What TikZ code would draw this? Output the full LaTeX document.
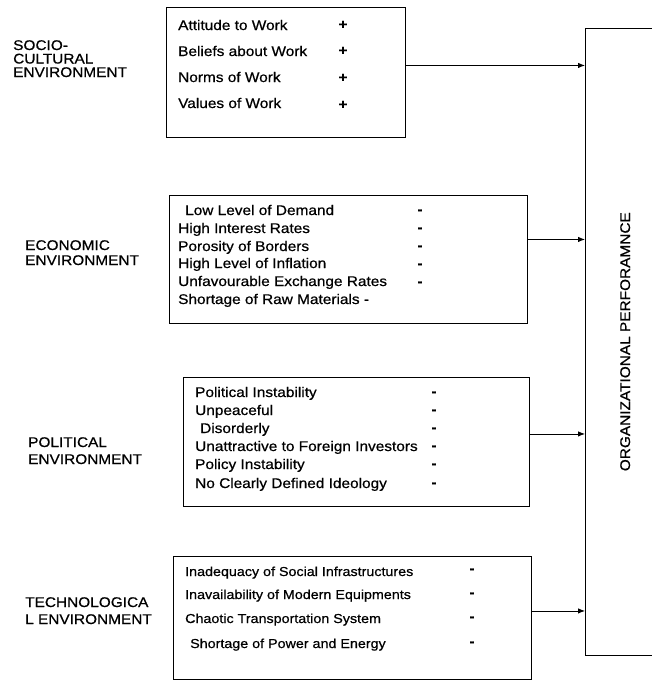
\documentclass[tikz,border=0pt]{standalone}
\usepackage{fontspec}
\setmainfont{Liberation Sans}[FakeStretch=1.1, FakeBold=0.6]
\usetikzlibrary{arrows.meta,calc}
\tikzset{
  box/.style={draw=black, line width=0.9pt, anchor=north west, inner sep=0pt},
  item/.style={anchor=base west, inner sep=0pt, font=\fontsize{14}{16}\selectfont},
  itemsm/.style={anchor=base west, inner sep=0pt, font=\fontsize{13}{15}\selectfont},
  signmk/.style={anchor=base, inner sep=0pt, font=\fontsize{14}{16}\selectfont\bfseries},
  envlabel/.style={anchor=base west, inner sep=0pt, align=left},
  arr/.style={line width=0.9pt, -{Latex[length=7pt,width=5.5pt]}}
}
\begin{document}
\begin{tikzpicture}[x=1pt,y=-1pt]
\useasboundingbox (0,0) rectangle (652,681);

% right box
\node[draw=none, anchor=north west, minimum width=80pt, minimum height=627pt, inner sep=0pt] (perf) at (585,28) {};
\draw[line width=0.9pt] (perf.north east) -- (perf.north west) -- (perf.south west) -- (perf.south east);
\node[rotate=90, inner sep=0pt, font=\fontsize{14}{16}\selectfont] (perflabel) at (perf.center) {ORGANIZATIONAL PERFORAMNCE};

% left labels (base = baseline of last line)
\node[envlabel, font=\fontsize{14}{13.5}\selectfont] (l1) at (13,77) {SOCIO-\\CULTURAL\\ENVIRONMENT};
\node[envlabel, font=\fontsize{14}{15}\selectfont] (l2) at (25,265) {ECONOMIC\\ENVIRONMENT};
\node[envlabel, font=\fontsize{14}{17}\selectfont] (l3) at (28,464) {POLITICAL\\ENVIRONMENT};
\node[envlabel, font=\fontsize{14}{17}\selectfont] (l4) at (25,624) {TECHNOLOGICA\\L ENVIRONMENT};

% box 1
\node[box, minimum width=239pt, minimum height=130pt] (b1) at (166,7) {};
\node[item] (t11) at (178,30) {Attitude to Work};
\node[item] (t12) at (178,56) {Beliefs about Work};
\node[item] (t13) at (178,82) {Norms of Work};
\node[item] (t14) at (178,108) {Values of Work};
\node[signmk] (p11) at (343,29) {+};
\node[signmk] (p12) at (343,55) {+};
\node[signmk] (p13) at (343,82) {+};
\node[signmk] (p14) at (343,109) {+};

% box 2
\node[box, minimum width=358pt, minimum height=128pt] (b2) at (169,195) {};
\node[item] (t21) at (185,215) {Low Level of Demand};
\node[item] (t22) at (178,233) {High Interest Rates};
\node[item] (t23) at (178,251) {Porosity of Borders};
\node[item] (t24) at (178,268) {High Level of Inflation};
\node[item] (t25) at (178,286) {Unfavourable Exchange Rates};
\node[item] (t26) at (178,304) {Shortage of Raw Materials -};
\node[signmk] (d21) at (420,214) {-};
\node[signmk] (d22) at (420,232) {-};
\node[signmk] (d23) at (420,250) {-};
\node[signmk] (d24) at (420,268) {-};
\node[signmk] (d25) at (420,286) {-};

% box 3
\node[box, minimum width=346pt, minimum height=129pt] (b3) at (183,377) {};
\node[item] (t31) at (195,397) {Political Instability};
\node[item] (t32) at (195,415) {Unpeaceful};
\node[item] (t33) at (200,433) {Disorderly};
\node[item] (t34) at (195,451) {Unattractive to Foreign Investors};
\node[item] (t35) at (195,469) {Policy Instability};
\node[item] (t36) at (195,488) {No Clearly Defined Ideology};
\node[signmk] (d31) at (434,396) {-};
\node[signmk] (d32) at (434,414) {-};
\node[signmk] (d33) at (434,432) {-};
\node[signmk] (d34) at (434,450) {-};
\node[signmk] (d35) at (434,468) {-};
\node[signmk] (d36) at (434,487) {-};

% box 4
\node[box, minimum width=358pt, minimum height=123pt] (b4) at (173,556) {};
\node[itemsm] (t41) at (185,576) {Inadequacy of Social Infrastructures};
\node[itemsm] (t42) at (185,599) {Inavailability of Modern Equipments};
\node[itemsm] (t43) at (185,623) {Chaotic Transportation System};
\node[itemsm] (t44) at (190,648) {Shortage of Power and Energy};
\node[signmk] (d41) at (472,573) {-};
\node[signmk] (d42) at (472,597) {-};
\node[signmk] (d43) at (472,621) {-};
\node[signmk] (d44) at (472,646) {-};

% arrows
\coordinate (a1) at ($(b1.east)+(0,-7)$);
\coordinate (a2) at ($(b2.east)+(0,-20)$);
\coordinate (a3) at ($(b3.east)+(0,-8)$);
\coordinate (a4) at ($(b4.east)+(0,-7)$);
\draw[arr] (a1) -- (a1 -| perf.west);
\draw[arr] (a2) -- (a2 -| perf.west);
\draw[arr] (a3) -- (a3 -| perf.west);
\draw[arr] (a4) -- (a4 -| perf.west);
\end{tikzpicture}
\end{document}
